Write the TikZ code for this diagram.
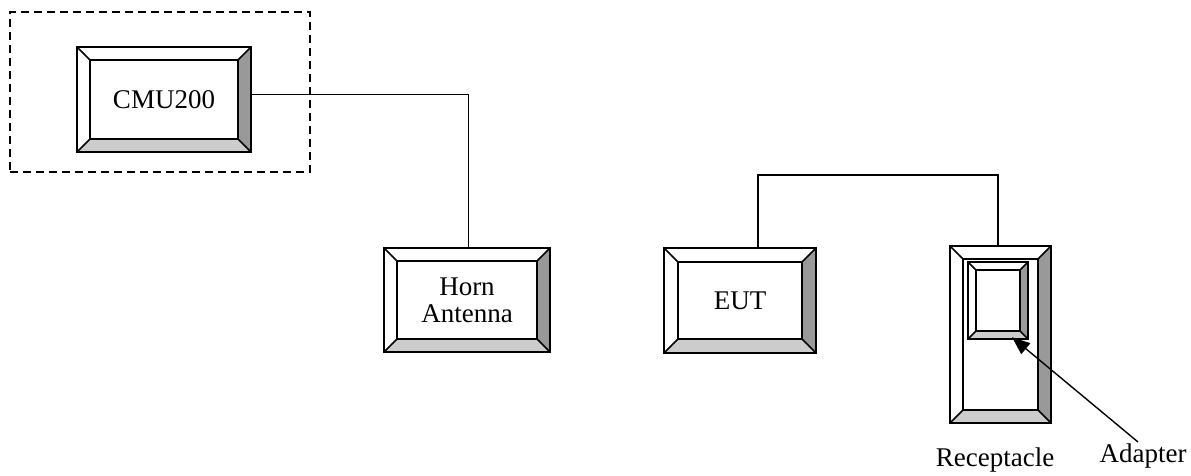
\documentclass[tikz,border=0pt]{standalone}
\usepackage{fontspec}
\setmainfont{Liberation Serif}
\usetikzlibrary{calc,arrows.meta}
\definecolor{bevdark}{HTML}{999999}
\definecolor{bevlight}{HTML}{CCCCCC}
\tikzset{
  bevnode/.style={rectangle, fill=white, inner sep=0pt, align=center, font=\fontsize{27}{27}\selectfont},
  outl/.style={line width=1.6pt, line join=miter},
  conn/.style={line width=1.4pt},
  lbl/.style={font=\fontsize{27}{27}\selectfont, inner sep=0pt}
}
\newcommand\bevbox[2]{%
  \fill[bevdark] (#1.north east) -- (#1.south east) -- ($(#1.south east)+(-#2,-#2)$) -- ($(#1.north east)+(-#2,#2)$) -- cycle;
  \fill[bevlight] (#1.south west) -- (#1.south east) -- ($(#1.south east)+(-#2,-#2)$) -- ($(#1.south west)+(#2,-#2)$) -- cycle;
  \draw[outl] (#1.north west) rectangle (#1.south east);
  \draw[outl] ($(#1.north west)+(#2,#2)$) rectangle ($(#1.south east)+(-#2,-#2)$);
  \draw[outl] (#1.north west) -- ++(#2,#2);
  \draw[outl] (#1.north east) -- ++(-#2,#2);
  \draw[outl] (#1.south west) -- ++(#2,-#2);
  \draw[outl] (#1.south east) -- ++(-#2,-#2);
}
\begin{document}
\begin{tikzpicture}[x=1pt,y=-1pt]
\useasboundingbox (0,0) rectangle (1191,476);
% group dashed box
\node[draw, dash pattern=on 8pt off 5pt, line width=1.3pt, minimum width=300pt, minimum height=160pt, inner sep=0pt] (grp) at (160,92) {};
% boxes
\node[bevnode, minimum width=174pt, minimum height=105pt] (cmu) at (164,99.5) {CMU200};
\bevbox{cmu}{13}
\node[bevnode, minimum width=166pt, minimum height=104pt] (horn) at (467,300) {Horn\\Antenna};
\bevbox{horn}{13}
\node[bevnode, minimum width=152pt, minimum height=105pt] (eut) at (740,300.5) {EUT};
\bevbox{eut}{14}
\node[bevnode, minimum width=101pt, minimum height=177pt] (rec) at (1000.5,334.5) {};
\bevbox{rec}{13}
\node[bevnode, minimum width=60pt, minimum height=77pt] (adp) at (998,300.5) {};
\bevbox{adp}{8}
% connectors
\draw[conn] ($(cmu.east)+(0,-5)$) -| ($(horn.north)+(1.5,0)$);
\draw[conn] ($(eut.north)+(18,0)$) |- (880,175) -| ($(rec.north)+(-2.5,0)$);
% labels
\node[lbl] (reclbl) at (995,460) {Receptacle};
\node[lbl] (adplbl) at (1143,456) {Adapter};
\coordinate (atail) at (1138,442);
\draw[conn, -{Triangle[length=18pt,width=14pt]}] (atail) -- ($(adp.south)+(14,-2)$);
\end{tikzpicture}
\end{document}
